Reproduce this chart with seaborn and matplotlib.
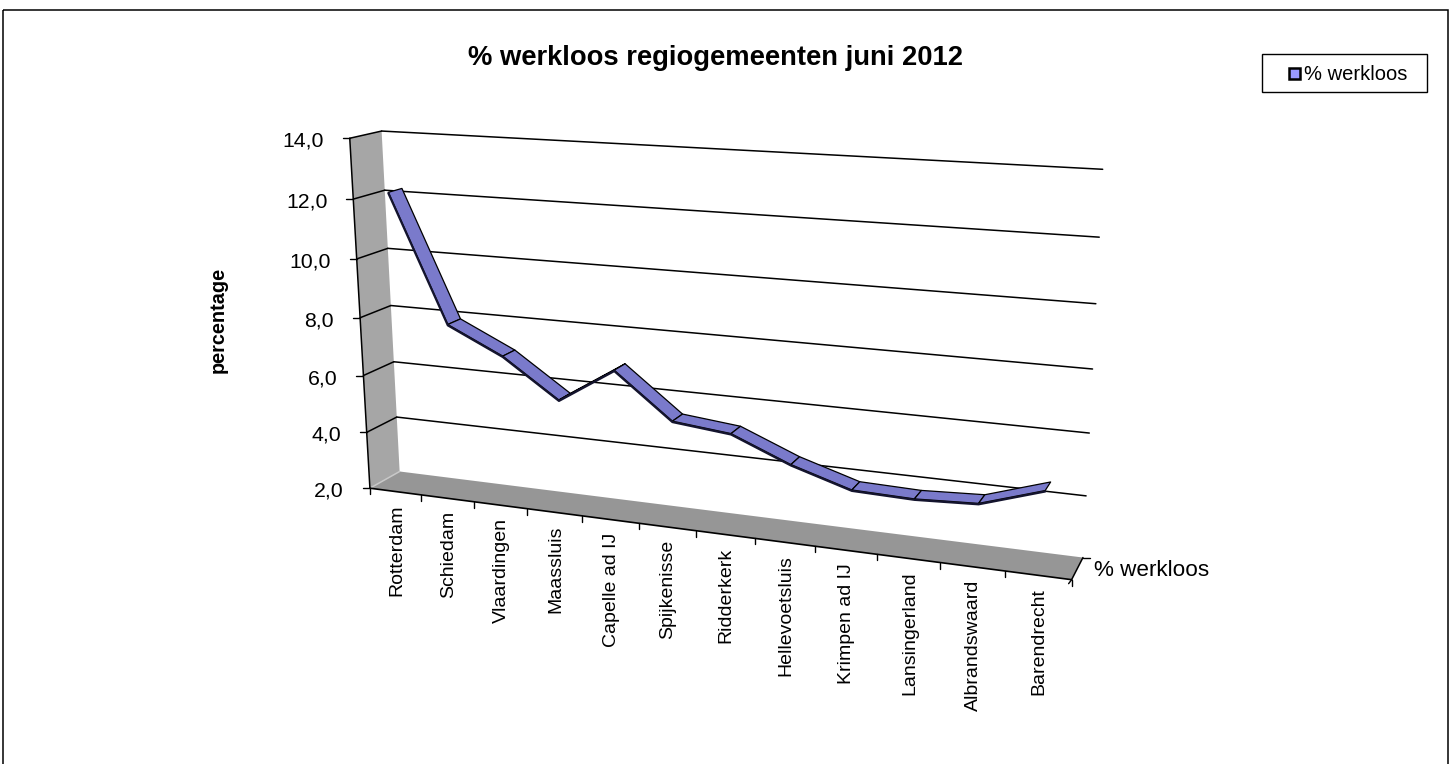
import numpy as np
import pandas as pd
import matplotlib
matplotlib.use("Agg")
import matplotlib.pyplot as plt
from matplotlib.transforms import Transform
from matplotlib.patches import Rectangle
import seaborn as sns

categories = ["Rotterdam", "Schiedam", "Vlaardingen", "Maassluis", "Capelle ad IJ", "Spijkenisse",
              "Ridderkerk", "Hellevoetsluis", "Krimpen ad IJ", "Lansingerland", "Albrandswaard", "Barendrecht"]
werkloos = [12.2, 7.9, 7.0, 5.7, 6.9, 5.4, 5.2, 4.4, 3.8, 3.75, 3.85, 4.5]
value_ticks = [2.0, 4.0, 6.0, 8.0, 10.0, 12.0, 14.0]
series_name = "% werkloos"
title = "% werkloos regiogemeenten juni 2012"
ylabel = "percentage"

sns.set_theme(style="white")
plt.rcParams['font.family'] = ['Liberation Sans', 'DejaVu Sans']

# ---- camera: fit a projective matrix (category pos, value, depth) -> pixel
cam_front = [(350,138),(353,199),(357,259),(360,317),(363,376),(367,433),(370,488)][::-1]
cam_backl = [(382,131),(385,190),(388,248),(390,306),(393,362),(397,417),(400,472)][::-1]
cam_backr = [(1101,169),(1100,238),(1097,304),(1093,369),(1089,433),(1086,496),(1083,556)][::-1]
cam_floor = [370,422,474,527,582,638,696,755,815,877,940,1005,1072]
obs = []
for k, v in enumerate(value_ticks):
    obs.append((0, v, 0, *cam_front[k]))
    obs.append((0, v, 1, *cam_backl[k]))
    obs.append((12, v, 1, *cam_backr[k]))
for k, X in enumerate(cam_floor):
    obs.append((k, 2, 0, X, 488 + (X - 370) * 92 / 702))
A, b = [], []
for x, v, d, X, Y in obs:
    A.append([x, v, d, 1, 0, 0, 0, 0, -X*x, -X*v, -X*d]); b.append(X)
    A.append([0, 0, 0, 0, x, v, d, 1, -Y*x, -Y*v, -Y*d]); b.append(Y)
sol = np.linalg.lstsq(np.array(A, float), np.array(b, float), rcond=None)[0]
CAM = np.append(sol, 1.0).reshape(3, 4)


def project(x, v, d):
    p = np.stack([x, v, d, np.ones_like(x)], axis=0).astype(float)
    q = CAM @ p
    return np.column_stack([q[0] / q[2], q[1] / q[2]])


class Plane(Transform):
    """Maps (category position, value) at a depth, or (depth, value) on a wall, to pixels."""
    input_dims = output_dims = 2
    is_separable = False
    has_inverse = False

    def __init__(self, at_depth=None, wall_x=None):
        super().__init__()
        self.at_depth, self.wall_x = at_depth, wall_x

    def transform_non_affine(self, values):
        a = np.asarray(values, float)
        if self.wall_x is not None:
            return project(np.full(len(a), float(self.wall_x)), a[:, 1], a[:, 0])
        return project(a[:, 0], a[:, 1], np.full(len(a), float(self.at_depth)))


fig = plt.figure(figsize=(14.52, 7.64), dpi=100, facecolor="white")
ax = fig.add_axes([0, 0, 1, 1])
ax.set_xlim(0, 1452); ax.set_ylim(764, 0); ax.axis("off"); ax.autoscale(False)
W, H = 1452, 764
n = len(categories)
cx = np.arange(n) + 0.5

# outer frame
ax.add_patch(Rectangle((3, 10), 1445, 760, fill=False, ec="black", lw=1.1))

front, back = Plane(at_depth=0), Plane(at_depth=1)
left = Plane(wall_x=0)
XMAX = n
vmin, vmax = value_ticks[0], value_ticks[-1]

# left wall + floor
ax.fill([0, 1, 1, 0], [vmin, vmin, vmax, vmax], color="#A6A6A6", lw=0, transform=left + ax.transData, zorder=1)
fl = project(np.array([0, 12, 12, 0.]), np.full(4, vmin), np.array([0, 0, 1, 1.]))
ax.fill(fl[:, 0], fl[:, 1], color="#969696", lw=0, zorder=1.5)

# grid lines
for v in value_ticks:
    g1 = pd.DataFrame({"x": [0, XMAX], "y": [v, v]})
    g2 = pd.DataFrame({"x": [0, 1], "y": [v, v]})
    if v > vmin:
        sns.lineplot(data=g1, x="x", y="y", estimator=None, sort=False, color="black", lw=1.1,
                     transform=back + ax.transData, ax=ax, zorder=2)
    sns.lineplot(data=g2, x="x", y="y", estimator=None, sort=False, color="black" if v > vmin else "#C8C8C8",
                 lw=1.1, transform=left + ax.transData, ax=ax, zorder=2)
    p = project(np.array([0.]), np.array([v]), np.array([0.]))[0]
    ax.plot([p[0] - 7, p[0]], [p[1], p[1]], color="black", lw=1, zorder=3)
    ax.text(p[0] - 26, p[1] + 3, f"{v:.1f}".replace(".", ","), ha="right", va="center", fontsize=15.3, color="black")

# axis edges
sns.lineplot(x=[0, 1e-6], y=[vmin, vmax], estimator=None, sort=False, color="black", lw=1.1,
             transform=front + ax.transData, ax=ax, zorder=3)
sns.lineplot(x=[0, XMAX], y=[vmin, vmin], estimator=None, sort=False, color="black", lw=1.2,
             transform=front + ax.transData, ax=ax, zorder=3)
e = project(np.array([12, 12.]), np.full(2, vmin), np.array([0, 1.]))
ax.plot(e[:, 0], e[:, 1], color="black", lw=1.1, zorder=3)
ax.plot([e[1, 0], e[1, 0] + 7], [e[1, 1], e[1, 1]], color="black", lw=1, zorder=3)
ax.plot([e[0, 0], e[0, 0] - 3], [e[0, 1], e[0, 1] + 4], color="black", lw=1, zorder=3)
ax.text(e[1, 0] + 11, e[1, 1] + 13, series_name, ha="left", va="center", fontsize=16.2, color="black")

# category ticks and labels
t = project(np.arange(n + 1.), np.full(n + 1, vmin), np.zeros(n + 1))
for X, Y in t:
    ax.plot([X, X], [Y, Y + 6], color="black", lw=1, zorder=3)
lab = project(cx, np.full(n, vmin), np.zeros(n))
for (X, Y), name in zip(lab, categories):
    ax.text(X + 1, Y + 13, name, rotation=90, ha="center", va="top", fontsize=14, color="black")

# ribbon
D1, D2 = 0.28, 0.72
vals = np.array(werkloos)
ribbon_face = "#7A7ACB"
for i in range(n - 1):
    a = project(cx[[i, i + 1]], vals[[i, i + 1]], np.array([D1, D1]))
    c = project(cx[[i + 1, i]], vals[[i + 1, i]], np.array([D2, D2]))
    poly = np.vstack([a, c])
    ax.fill(poly[:, 0], poly[:, 1], fc=ribbon_face, ec="black", lw=0.9, zorder=4, joinstyle="round")
front_df = pd.DataFrame({"pos": cx, "val": vals - 0.03})
sns.lineplot(data=front_df, x="pos", y="val", estimator=None, sort=False, color="#14142E", lw=1.6,
             transform=Plane(at_depth=D1) + ax.transData, ax=ax, zorder=5)

# titles
ax.text(716, 58, title, ha="center", va="center", fontsize=19.7, fontweight="bold", color="black")
ax.text(218, 320, ylabel, rotation=90, ha="center", va="center", fontsize=14.3, fontweight="bold", color="black")

# legend box
ax.add_patch(Rectangle((1262, 54), 165, 38, fc="white", ec="black", lw=1, zorder=6))
ax.add_patch(Rectangle((1288.5, 67.5), 11, 11, fc="#9999FF", ec="black", lw=1.8, zorder=7))
ax.text(1304, 74, series_name, ha="left", va="center", fontsize=14.5, color="black", zorder=7)

ax.set_xlabel(""); ax.set_ylabel("")
ax.set_xlim(0, W); ax.set_ylim(H, 0)
fig.savefig("out.png", dpi=100, facecolor="white")
